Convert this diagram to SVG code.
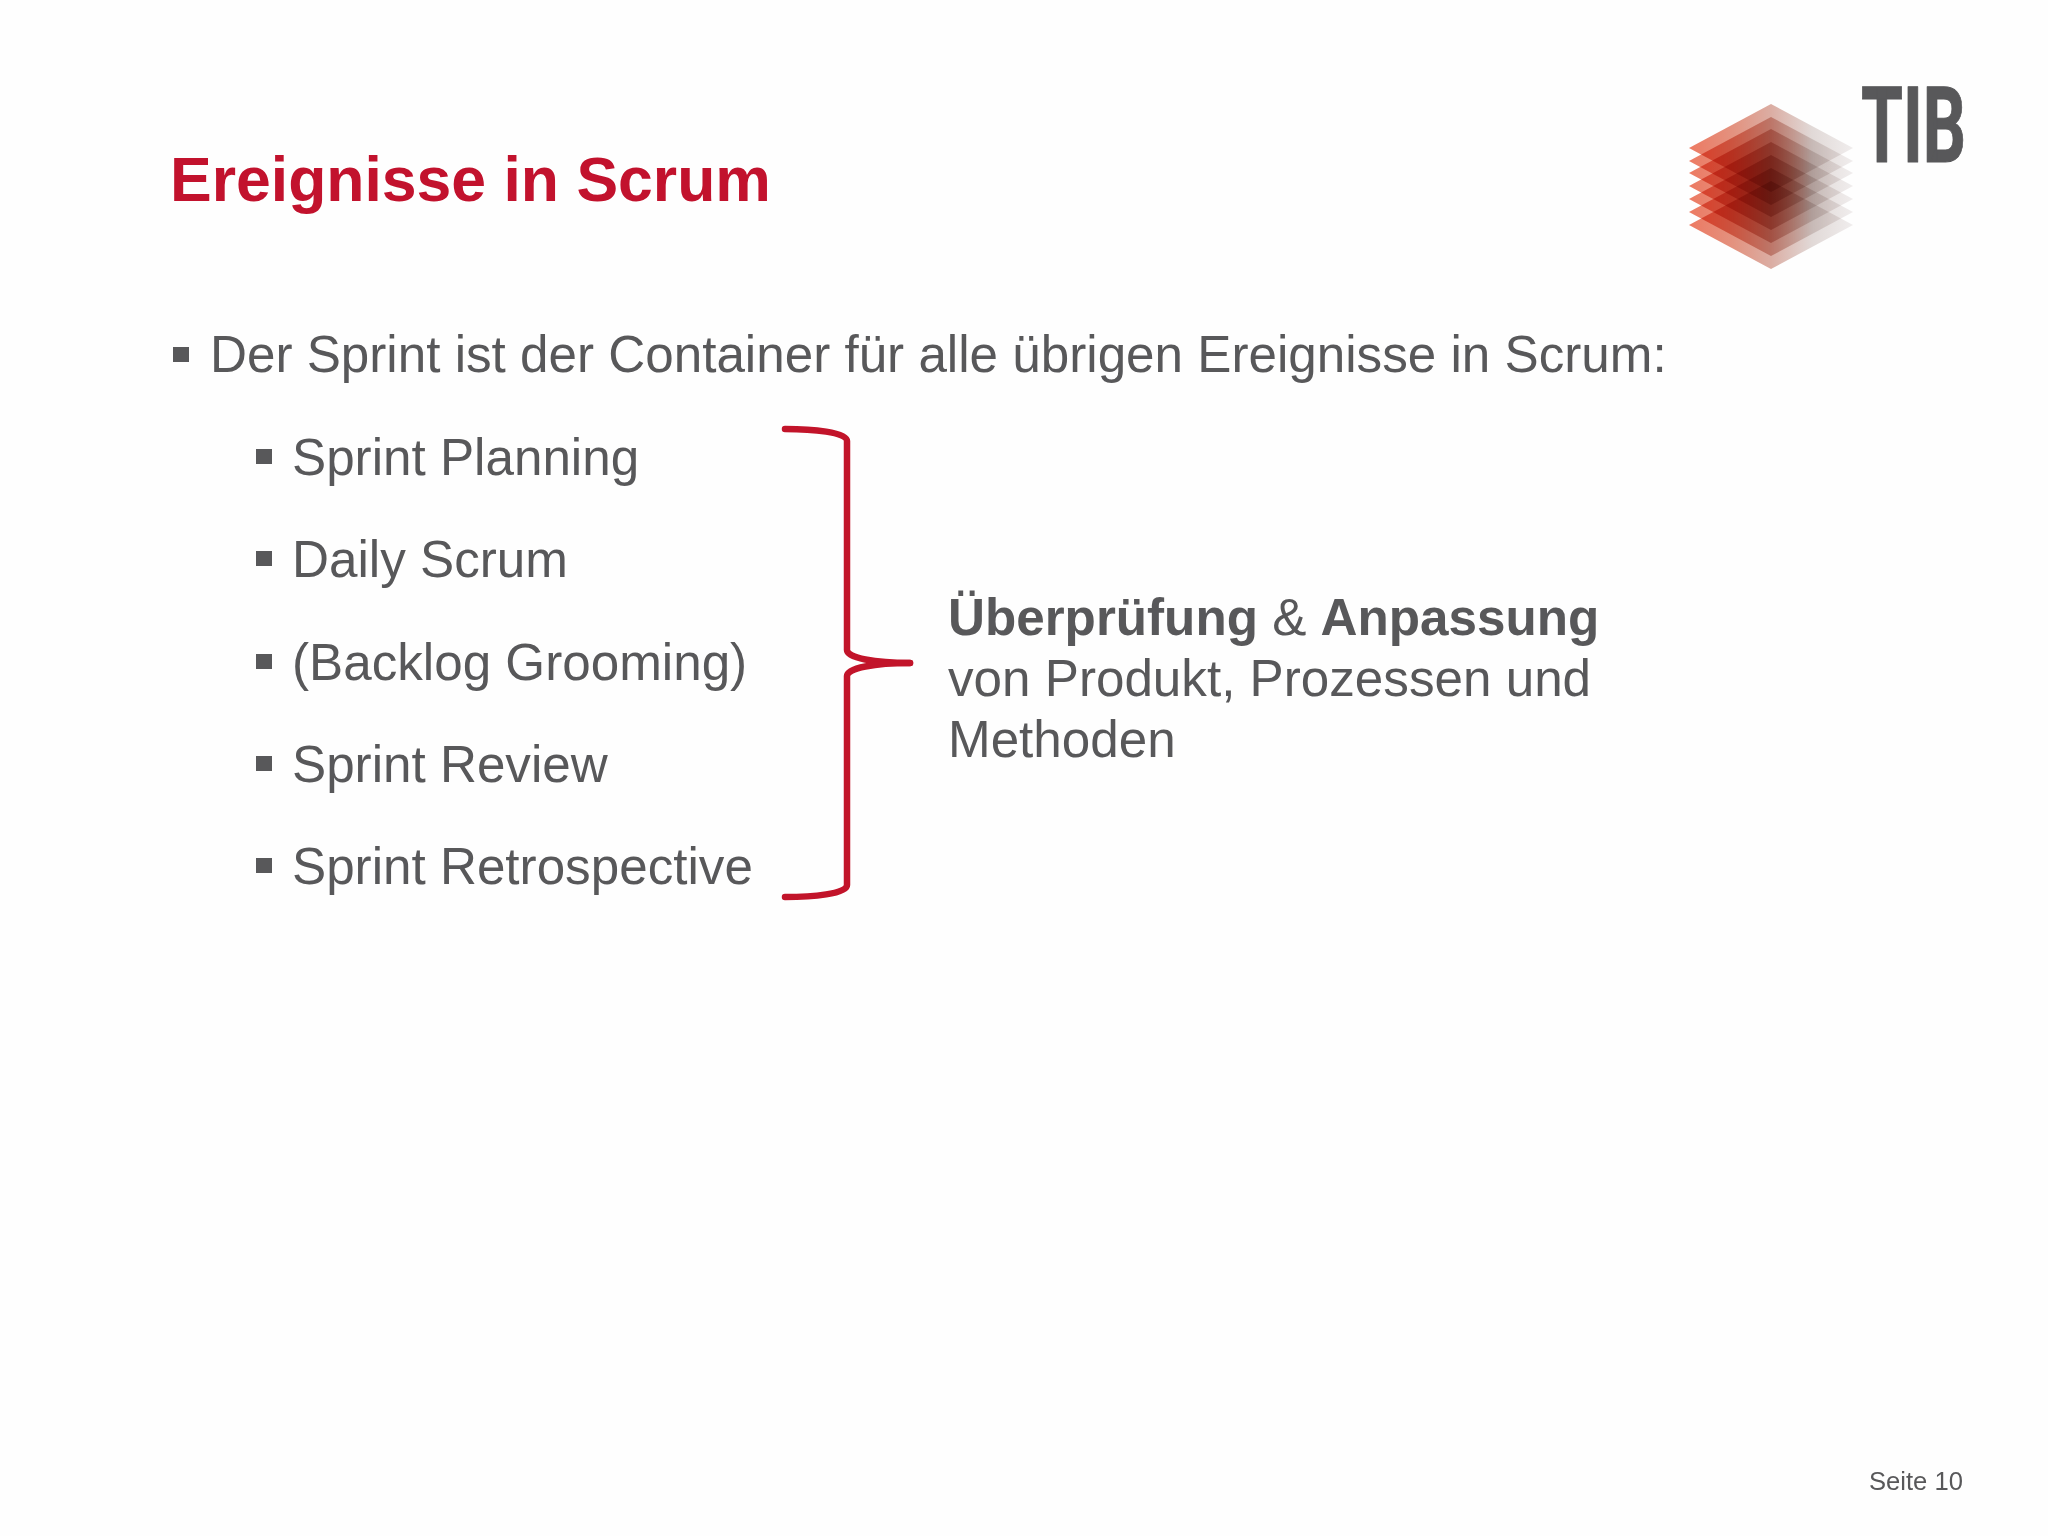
<svg xmlns="http://www.w3.org/2000/svg" width="2048" height="1536" viewBox="0 0 2048 1536">
<style>
text{font-family:"Liberation Sans",Arial,sans-serif;fill:#58585a}
.t{font-size:51.2px}
.b{fill:#58585a}
.br{fill:none;stroke:#c2142a;stroke-width:6.5;stroke-linecap:round;stroke-linejoin:round}
.d{mix-blend-mode:multiply}
</style>
<defs>
<linearGradient id="g" x1="0" y1="0" x2="1" y2="0">
<stop offset="0" stop-color="#ee7a62"/>
<stop offset=".25" stop-color="#e5917d"/>
<stop offset=".5" stop-color="#dcaea4"/>
<stop offset=".75" stop-color="#e2dad8"/>
<stop offset="1" stop-color="#f1eeee"/>
</linearGradient>
<polygon id="d" class="d" points="1689,0 1771,-44 1853,0 1771,44" fill="url(#g)"/>
</defs>
<rect width="2048" height="1536" fill="#fefefe"/>
<g id="title"><text x="170" y="201" font-size="62.5" font-weight="700" style="fill:#c2122d">Ereignisse in Scrum</text></g>
<g id="logo">
<use href="#d" y="148"/><use href="#d" y="161"/><use href="#d" y="173"/><use href="#d" y="186"/><use href="#d" y="199"/><use href="#d" y="212"/><use href="#d" y="225"/>
<text x="1861" y="162" font-size="105" font-weight="700" textLength="105" lengthAdjust="spacingAndGlyphs" stroke="#58585a" stroke-width="1" stroke-linejoin="round" style="font-family:Roboto,sans-serif">TIB</text>
</g>
<g id="items">
<rect class="b" x="173" y="347" width="16" height="15"/><text class="t" x="210" y="372">Der Sprint ist der Container für alle übrigen Ereignisse in Scrum:</text>
<rect class="b" x="256" y="449" width="16" height="15"/><text class="t" x="292" y="475">Sprint Planning</text>
<rect class="b" x="256" y="551" width="16" height="15"/><text class="t" x="292" y="577">Daily Scrum</text>
<rect class="b" x="256" y="654" width="16" height="15"/><text class="t" x="292" y="680">(Backlog Grooming)</text>
<rect class="b" x="256" y="756" width="16" height="15"/><text class="t" x="292" y="782">Sprint Review</text>
<rect class="b" x="256" y="858" width="16" height="15"/><text class="t" x="292" y="884">Sprint Retrospective</text>
</g>
<g id="connectors">
<path class="br" d="M785 429C812 429 847 432 847 441V650C847 658 875 663 910 663"/>
<path class="br" d="M785 897C812 897 847 894 847 885V676C847 668 875 663 910 663"/>
</g>
<g id="note">
<text class="t" x="948" y="635"><tspan font-weight="700">Überprüfung</tspan> &amp; <tspan font-weight="700">Anpassung</tspan></text>
<text class="t" x="948" y="696">von Produkt, Prozessen und</text>
<text class="t" x="948" y="757">Methoden</text>
</g>
<g id="footer"><text x="1869" y="1490" font-size="25.6">Seite 10</text></g>
</svg>
